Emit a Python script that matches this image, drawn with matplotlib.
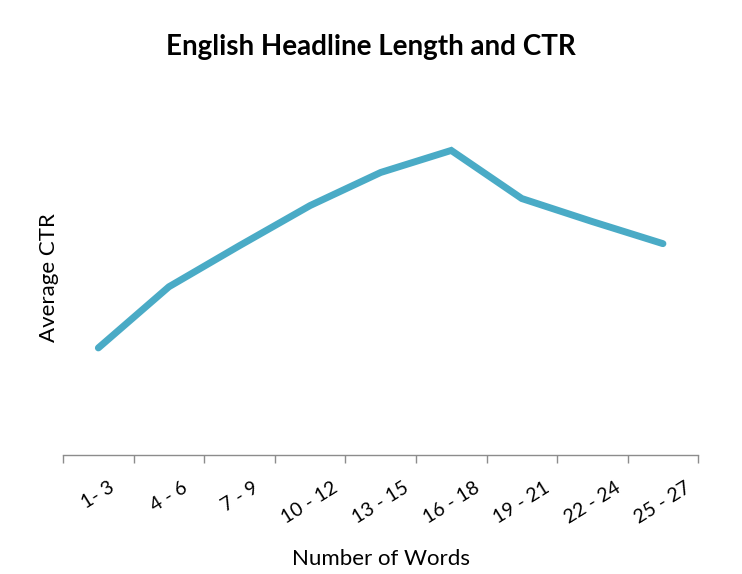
import matplotlib
matplotlib.use("Agg")
import matplotlib.pyplot as plt
import numpy as np

plt.rcParams['font.family'] = ['Lato', 'DejaVu Sans']

categories = ["1- 3", "4 - 6", "7 - 9", "10 - 12", "13 - 15", "16 - 18", "19 - 21", "22 - 24", "25 - 27"]
avg_ctr = [107, 168, 209, 249, 282, 304, 256, 233, 211]

fig = plt.figure(figsize=(7.42, 5.74), dpi=100)
ax = fig.add_axes([0.085, 0.207, 0.856, 0.62])

x = np.arange(len(categories))
ax.plot(x, avg_ctr, color="#4AABC6", linewidth=5, solid_capstyle="round", solid_joinstyle="miter")

ax.set_xlim(-0.5, len(categories) - 0.5)
ax.set_ylim(0, 355)

for s in ["top", "right", "left"]:
    ax.spines[s].set_visible(False)
ax.spines["bottom"].set_color("#8c8c8c")
ax.spines["bottom"].set_linewidth(1)

ax.set_yticks([])
ax.set_xticks(x)
ax.set_xticklabels(categories, rotation=32, ha="center", fontsize=14)
ax.tick_params(axis="x", which="major", length=0, pad=17)
ax.set_xticks(np.arange(-0.5, len(categories)), minor=True)
ax.tick_params(axis="x", which="minor", length=6, color="#8c8c8c", width=1)

ax.set_xlabel("Number of Words", fontsize=16, labelpad=16)
ax.set_ylabel("Average CTR", fontsize=16, labelpad=3)
fig.suptitle("English Headline Length and CTR", fontsize=20, fontweight="bold", y=0.94)

fig.savefig("out.png", dpi=100)
